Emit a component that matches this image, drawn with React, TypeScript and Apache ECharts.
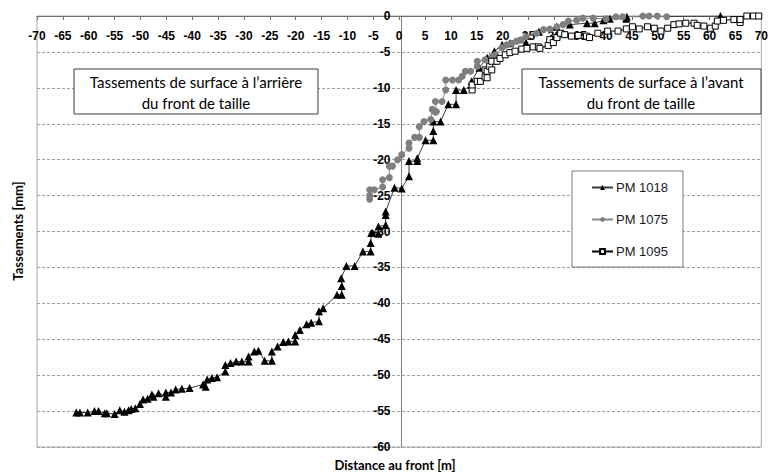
import React, { useEffect, useRef } from "react";
import * as echarts from "echarts";

const xTicks = { min: -70, max: 70, step: 5 };
const yTicks = { min: -60, max: 0, step: 5 };

const seriesNames = ["PM 1018", "PM 1075", "PM 1095"];

const pm1018: [number, number][] = [
  [-62.4, -55.2], [-61.7, -55.2], [-60.2, -55.2], [-58.9, -55.0], [-58.1, -55.0], [-56.9, -55.3],
  [-56.5, -55.3], [-55.0, -55.4], [-54.0, -54.9], [-53.1, -55.1], [-52.3, -54.9], [-51.8, -54.7],
  [-51.0, -54.6], [-50.1, -54.0], [-49.5, -53.4], [-48.6, -53.3], [-47.8, -52.7], [-47.5, -53.0],
  [-46.5, -52.5], [-45.1, -53.0], [-45.1, -52.4], [-44.1, -52.4], [-43.2, -52.0], [-42.0, -51.9],
  [-40.5, -51.8], [-37.9, -51.3], [-37.4, -51.6], [-37.1, -50.6], [-36.2, -50.4], [-35.2, -50.3],
  [-33.6, -49.5], [-33.6, -48.6], [-32.6, -48.3], [-31.5, -48.1], [-30.4, -48.1], [-29.1, -48.1],
  [-29.1, -47.4], [-28.0, -46.7], [-27.2, -46.6], [-26.0, -48.0], [-24.6, -48.0], [-24.6, -46.7],
  [-23.5, -46.0], [-22.4, -45.4], [-21.4, -45.3], [-20.1, -45.3], [-20.1, -44.4], [-19.2, -43.7],
  [-17.9, -42.9], [-17.0, -42.7], [-15.5, -42.5], [-15.5, -41.1], [-14.7, -40.7], [-12.0, -38.8],
  [-11.1, -38.8], [-11.1, -37.6], [-11.2, -36.5], [-10.2, -34.8], [-8.6, -34.8], [-7.0, -32.8],
  [-5.5, -32.8], [-5.5, -31.6], [-5.4, -30.2], [-5.1, -30.2], [-4.0, -30.3], [-4.0, -29.3],
  [-2.6, -29.1], [-2.6, -27.7], [-2.6, -27.2], [-0.9, -23.9], [0.5, -24.0], [1.9, -22.3],
  [1.9, -20.2], [3.5, -20.2], [3.5, -19.8], [5.1, -17.3], [6.6, -17.3], [6.6, -16.0],
  [6.6, -14.7], [8.0, -14.7], [9.5, -12.3], [11.0, -12.3], [11.0, -10.3], [12.5, -10.3],
  [14.0, -9.6], [14.0, -9.1], [15.5, -7.2], [17.0, -5.8], [18.4, -4.9], [19.9, -4.0],
  [21.4, -3.8], [24.5, -3.7], [24.5, -2.8], [27.0, -2.2], [30.4, -1.5], [33.0, -1.2],
  [36.3, -1.0], [37.8, -1.0], [39.5, -0.6], [40.7, -0.4], [43.9, -0.4], [44.0, -0.1],
  [62.1, 0.0],
];

const pm1075: [number, number][] = [
  [-5.7, -25.5], [-5.7, -25.0], [-5.7, -24.2], [-4.8, -24.2], [-3.2, -23.8], [-3.2, -22.8],
  [-1.9, -22.5], [-1.9, -20.9], [-1.3, -20.9], [-0.3, -20.0], [0.5, -19.3], [1.9, -18.4],
  [1.9, -17.7], [3.0, -16.9], [3.9, -16.9], [3.9, -15.4], [4.8, -14.7], [6.1, -14.4],
  [6.4, -13.0], [7.0, -13.4], [7.2, -13.3], [7.0, -11.9], [8.3, -11.9], [9.0, -10.3],
  [9.0, -8.9], [10.3, -8.9], [11.5, -8.9], [12.2, -8.4], [12.8, -7.7], [13.8, -7.7],
  [15.1, -7.0], [15.1, -6.3], [16.6, -6.1], [17.9, -5.6], [18.6, -5.4], [19.9, -4.4],
  [20.8, -4.0], [21.8, -3.8], [22.7, -3.5], [23.5, -3.3], [24.5, -2.9], [26.6, -2.4],
  [27.9, -1.9], [29.1, -1.8], [30.5, -1.5], [31.7, -1.2], [32.7, -0.7], [34.3, -0.6],
  [35.5, -0.3], [37.5, -0.3], [40.0, -0.4], [41.9, -0.1], [43.2, -0.1], [47.1, 0.0],
  [48.3, 0.0], [49.9, 0.0], [51.7, -0.1],
];

const pm1095: [number, number][] = [
  [14.1, -10.3], [14.1, -9.6], [15.1, -9.1], [15.7, -9.1], [16.6, -8.5], [16.6, -7.5],
  [17.0, -8.6], [17.0, -7.7], [17.5, -7.0], [17.9, -7.5], [17.9, -6.3], [18.9, -6.3],
  [19.5, -5.9], [20.5, -5.4], [21.4, -5.1], [22.4, -4.9], [23.7, -4.6], [24.7, -4.5],
  [25.9, -4.3], [26.9, -4.3], [27.2, -4.5], [28.8, -4.1], [29.1, -3.3], [29.8, -3.7],
  [30.5, -3.0], [31.2, -2.4], [32.0, -2.6], [33.3, -2.8], [34.6, -2.7], [36.2, -2.8],
  [36.8, -3.0], [38.4, -2.4], [40.3, -2.1], [42.3, -2.1], [43.9, -1.8], [45.1, -1.5],
  [46.4, -1.8], [48.0, -1.5], [49.3, -1.7], [50.6, -2.1], [51.9, -1.7], [53.1, -1.2],
  [54.1, -1.1], [55.4, -1.0], [57.0, -1.0], [57.6, -1.3], [58.9, -1.4], [60.2, -1.7],
  [61.1, -1.4], [61.5, -0.7], [62.7, -0.6], [64.7, -0.5], [65.9, -0.9], [65.9, -0.5],
  [67.2, 0.0], [68.5, 0.0], [69.5, 0.0],
];

const yAxisTitle = "Tassements [mm]";
const xAxisTitle = "Distance au front [m]";
const noteLeft = "Tassements de surface à l\u2019arrière\ndu front de taille";
const noteRight = "Tassements de surface à l\u2019avant\ndu front de taille";

const labelFont = "'Liberation Sans', Arial, sans-serif";
const noteFont = "Lato, 'Open Sans', sans-serif";

const GRID = { left: 37, right: 5, top: 16, bottom: 25 };
const CHART_W = 771;
const CHART_H = 472;

export default function App() {
  const ref = useRef<HTMLDivElement>(null);
  useEffect(() => {
    if (!ref.current) return;
    const chart = echarts.init(ref.current, undefined, { renderer: "svg" });
    const gridW = CHART_W - GRID.left - GRID.right;
    // the value axis sits where x = 0 (as in the original chart)
    const yAxisOffset = -((0 - xTicks.min) / (xTicks.max - xTicks.min)) * gridW;
    chart.setOption({
      animation: false,
      backgroundColor: "#ffffff",
      grid: {
        ...GRID,
        show: true,
        borderColor: "#a6a6a6",
        borderWidth: 1,
        backgroundColor: "transparent",
      },
      xAxis: {
        type: "value",
        min: xTicks.min,
        max: xTicks.max,
        interval: xTicks.step,
        position: "top",
        axisLine: { show: true, onZero: false, lineStyle: { color: "#6e6e6e", width: 1 } },
        axisTick: { show: true, inside: true, length: 4, lineStyle: { color: "#6e6e6e" } },
        axisLabel: {
          inside: true,
          margin: 14,
          color: "#000",
          fontFamily: labelFont,
          fontWeight: "bold",
          fontSize: 12,
          showMinLabel: true,
          showMaxLabel: true,
        },
        splitLine: { show: false },
      },
      yAxis: {
        type: "value",
        min: yTicks.min,
        max: yTicks.max,
        interval: yTicks.step,
        position: "left",
        offset: yAxisOffset,
        axisLine: { show: true, onZero: false, lineStyle: { color: "#808080", width: 1 } },
        axisTick: { show: false },
        axisLabel: {
          margin: 11,
          color: "#000",
          fontFamily: labelFont,
          fontWeight: "bold",
          fontSize: 12,
        },
        splitLine: { show: true, lineStyle: { color: "#a0a0a0", type: [3, 2], width: 1 } },
      },
      legend: {
        data: seriesNames,
        orient: "vertical",
        left: 591,
        top: 181,
        itemWidth: 21,
        itemHeight: 6,
        itemGap: 19,
        padding: 0,
        textStyle: { fontFamily: labelFont, fontSize: 13, color: "#1a1a2a", padding: [0, 0, 0, -2] },
      },
      graphic: [
        {
          type: "rect",
          z: 1,
          shape: { x: 572, y: 171, width: 111, height: 96 },
          style: { fill: "#fff", stroke: "#7a7a7a", lineWidth: 1 },
        },
        {
          type: "rect",
          z: 1,
          shape: { x: 74, y: 69, width: 244, height: 45 },
          style: { fill: "#fff", stroke: "#3c3c3c", lineWidth: 1 },
        },
        {
          type: "text",
          z: 2,
          x: 196,
          y: 71,
          style: {
            text: noteLeft,
            fill: "#000",
            font: `15px ${noteFont}`,
            align: "center",
            verticalAlign: "top",
            lineHeight: 21,
          },
        },
        {
          type: "rect",
          z: 1,
          shape: { x: 522, y: 69, width: 239, height: 45 },
          style: { fill: "#fff", stroke: "#3c3c3c", lineWidth: 1 },
        },
        {
          type: "text",
          z: 2,
          x: 641,
          y: 71,
          style: {
            text: noteRight,
            fill: "#000",
            font: `15px ${noteFont}`,
            align: "center",
            verticalAlign: "top",
            lineHeight: 21,
          },
        },
        {
          type: "text",
          z: 2,
          x: 18,
          y: 231,
          rotation: Math.PI / 2,
          style: {
            text: yAxisTitle,
            fill: "#000",
            font: `bold 13px ${noteFont}`,
            align: "center",
            verticalAlign: "middle",
          },
        },
        {
          type: "text",
          z: 2,
          x: 395,
          y: 465,
          style: {
            text: xAxisTitle,
            fill: "#000",
            font: `bold 13px ${noteFont}`,
            align: "center",
            verticalAlign: "middle",
          },
        },
      ],
      series: [
        {
          name: seriesNames[0],
          type: "line",
          data: pm1018,
          symbol: "triangle",
          symbolSize: 8,
          showAllSymbol: true,
          itemStyle: { color: "#000" },
          lineStyle: { color: "#3a3a3a", width: 1 },
          emphasis: { disabled: true },
        },
        {
          name: seriesNames[1],
          type: "line",
          data: pm1075,
          symbol: "circle",
          symbolSize: 7,
          showAllSymbol: true,
          itemStyle: { color: "#7f7f7f" },
          lineStyle: { color: "#8a8a8a", width: 1 },
          emphasis: { disabled: true },
        },
        {
          name: seriesNames[2],
          type: "line",
          data: pm1095,
          symbol: "rect",
          symbolSize: 6,
          showAllSymbol: true,
          itemStyle: { color: "#fff", borderColor: "#000", borderWidth: 1 },
          lineStyle: { color: "#000", width: 1 },
          emphasis: { disabled: true },
        },
      ],
    });
    return () => chart.dispose();
  }, []);
  return <div ref={ref} style={{ width: CHART_W, height: CHART_H, position: "absolute", left: 0, top: 0 }} />;
}
